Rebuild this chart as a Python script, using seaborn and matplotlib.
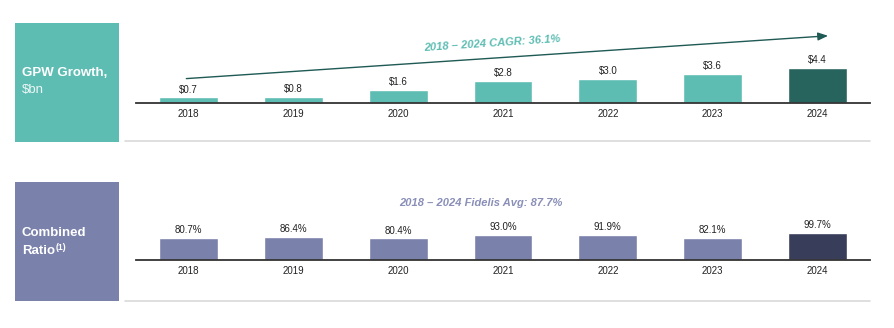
import matplotlib
matplotlib.use("Agg")
import matplotlib.pyplot as plt
from matplotlib.patches import Rectangle
from matplotlib.lines import Line2D
import seaborn as sns
import pandas as pd

years = ["2018", "2019", "2020", "2021", "2022", "2023", "2024"]
gpw = [0.7, 0.8, 1.6, 2.8, 3.0, 3.6, 4.4]
combined_ratio = [80.7, 86.4, 80.4, 93.0, 91.9, 82.1, 99.7]
cagr_text = "2018 – 2024 CAGR: 36.1%"
avg_text = "2018 – 2024 Fidelis Avg: 87.7%"

TEAL = "#5dbdb3"
TEAL_DARK = "#27645e"
PURPLE = "#7a81ab"
NAVY = "#383d5a"

sns.set_theme(style="white")
plt.rcParams["font.family"] = ["Liberation Sans", "DejaVu Sans"]

W, H = 894, 328
fig = plt.figure(figsize=(W / 100, H / 100), dpi=100)

def fx(px):
    return px / W

def fy(py):
    return 1 - py / H

# side boxes
fig.patches.append(Rectangle((fx(15), fy(142)), fx(104), 119 / H, transform=fig.transFigure,
                             facecolor=TEAL, edgecolor="none", zorder=0))
fig.patches.append(Rectangle((fx(15), fy(301)), fx(104), 119 / H, transform=fig.transFigure,
                             facecolor=PURPLE, edgecolor="none", zorder=0))
fig.text(fx(22), fy(73), "GPW Growth,", color="white", fontsize=9.5, fontweight="bold", va="center")
fig.text(fx(22), fy(90), "$bn", color="#eef8f6", fontsize=9.5, va="center")
fig.text(fx(22), fy(233), "Combined", color="white", fontsize=9.5, fontweight="bold", va="center")
rt = fig.text(fx(22), fy(251), "Ratio", color="white", fontsize=9.5, fontweight="bold", va="center")

# separator lines
for py in (141, 301):
    fig.add_artist(Line2D([fx(125), fx(870)], [fy(py), fy(py)], transform=fig.transFigure,
                          color="#d9d9d9", lw=1.2))

def style_ax(ax):
    ax.set_xlim(-0.5, 6.5)
    for s in ("top", "right", "left"):
        ax.spines[s].set_visible(False)
    ax.spines["bottom"].set_color("#333333")
    ax.spines["bottom"].set_linewidth(1.3)
    ax.set_yticks([])
    ax.set_xlabel("")
    ax.set_ylabel("")
    ax.tick_params(axis="x", length=0, pad=4, labelsize=7, labelcolor="#222222")
    ax.patch.set_alpha(0)

# top panel
ax1 = fig.add_axes([fx(136), fy(103), fx(734), 80 / H])
df1 = pd.DataFrame({"year": years, "gpw": gpw})
pal1 = [TEAL] * (len(years) - 1) + [TEAL_DARK]
sns.barplot(data=df1, x="year", y="gpw", hue="year", palette=pal1, legend=False,
            width=0.56, ax=ax1, saturation=1)
ax1.set_ylim(0, 10)
style_ax(ax1)
for i, v in enumerate(gpw):
    ax1.annotate(f"${v:.1f}", xy=(i, v), xytext=(0, 2), textcoords="offset points",
                 ha="center", va="bottom", fontsize=7, color="#222222")
ax1.annotate("", xy=(6.1, gpw[-1] + 4.0), xytext=(-0.02, gpw[0] + 2.35),
             arrowprops=dict(arrowstyle="-|>,head_length=0.5,head_width=0.2", color="#1f5a55",
                             lw=1.0, shrinkA=0, shrinkB=0), annotation_clip=False)
ax1.text(2.9, 7.4, cagr_text, ha="center", va="center", rotation=3.8, fontsize=8,
         fontweight="bold", fontstyle="italic", color=TEAL, clip_on=False)

# bottom panel
ax2 = fig.add_axes([fx(136), fy(260), fx(734), 70 / H])
df2 = pd.DataFrame({"year": years, "cr": combined_ratio})
pal2 = [PURPLE] * (len(years) - 1) + [NAVY]
sns.barplot(data=df2, x="year", y="cr", hue="year", palette=pal2, legend=False,
            width=0.56, ax=ax2, saturation=1)
ax2.set_ylim(0, 70 / 0.27)
style_ax(ax2)
for i, v in enumerate(combined_ratio):
    ax2.annotate(f"{v:.1f}%", xy=(i, v), xytext=(0, 2), textcoords="offset points",
                 ha="center", va="bottom", fontsize=7, color="#222222")
ax2.text(2.79, 211, avg_text, ha="center", va="center", fontsize=8,
         fontweight="bold", fontstyle="italic", color="#8a8fb8", clip_on=False)

# superscript for Ratio
fig.canvas.draw()
bb = rt.get_window_extent(renderer=fig.canvas.get_renderer())
fig.text((bb.x1 + 1) / W, (bb.y1 - 2) / H, "(1)", ha="left", va="center",
         fontsize=6.3, color="white", fontweight="bold")

fig.savefig("out.png", dpi=100)
